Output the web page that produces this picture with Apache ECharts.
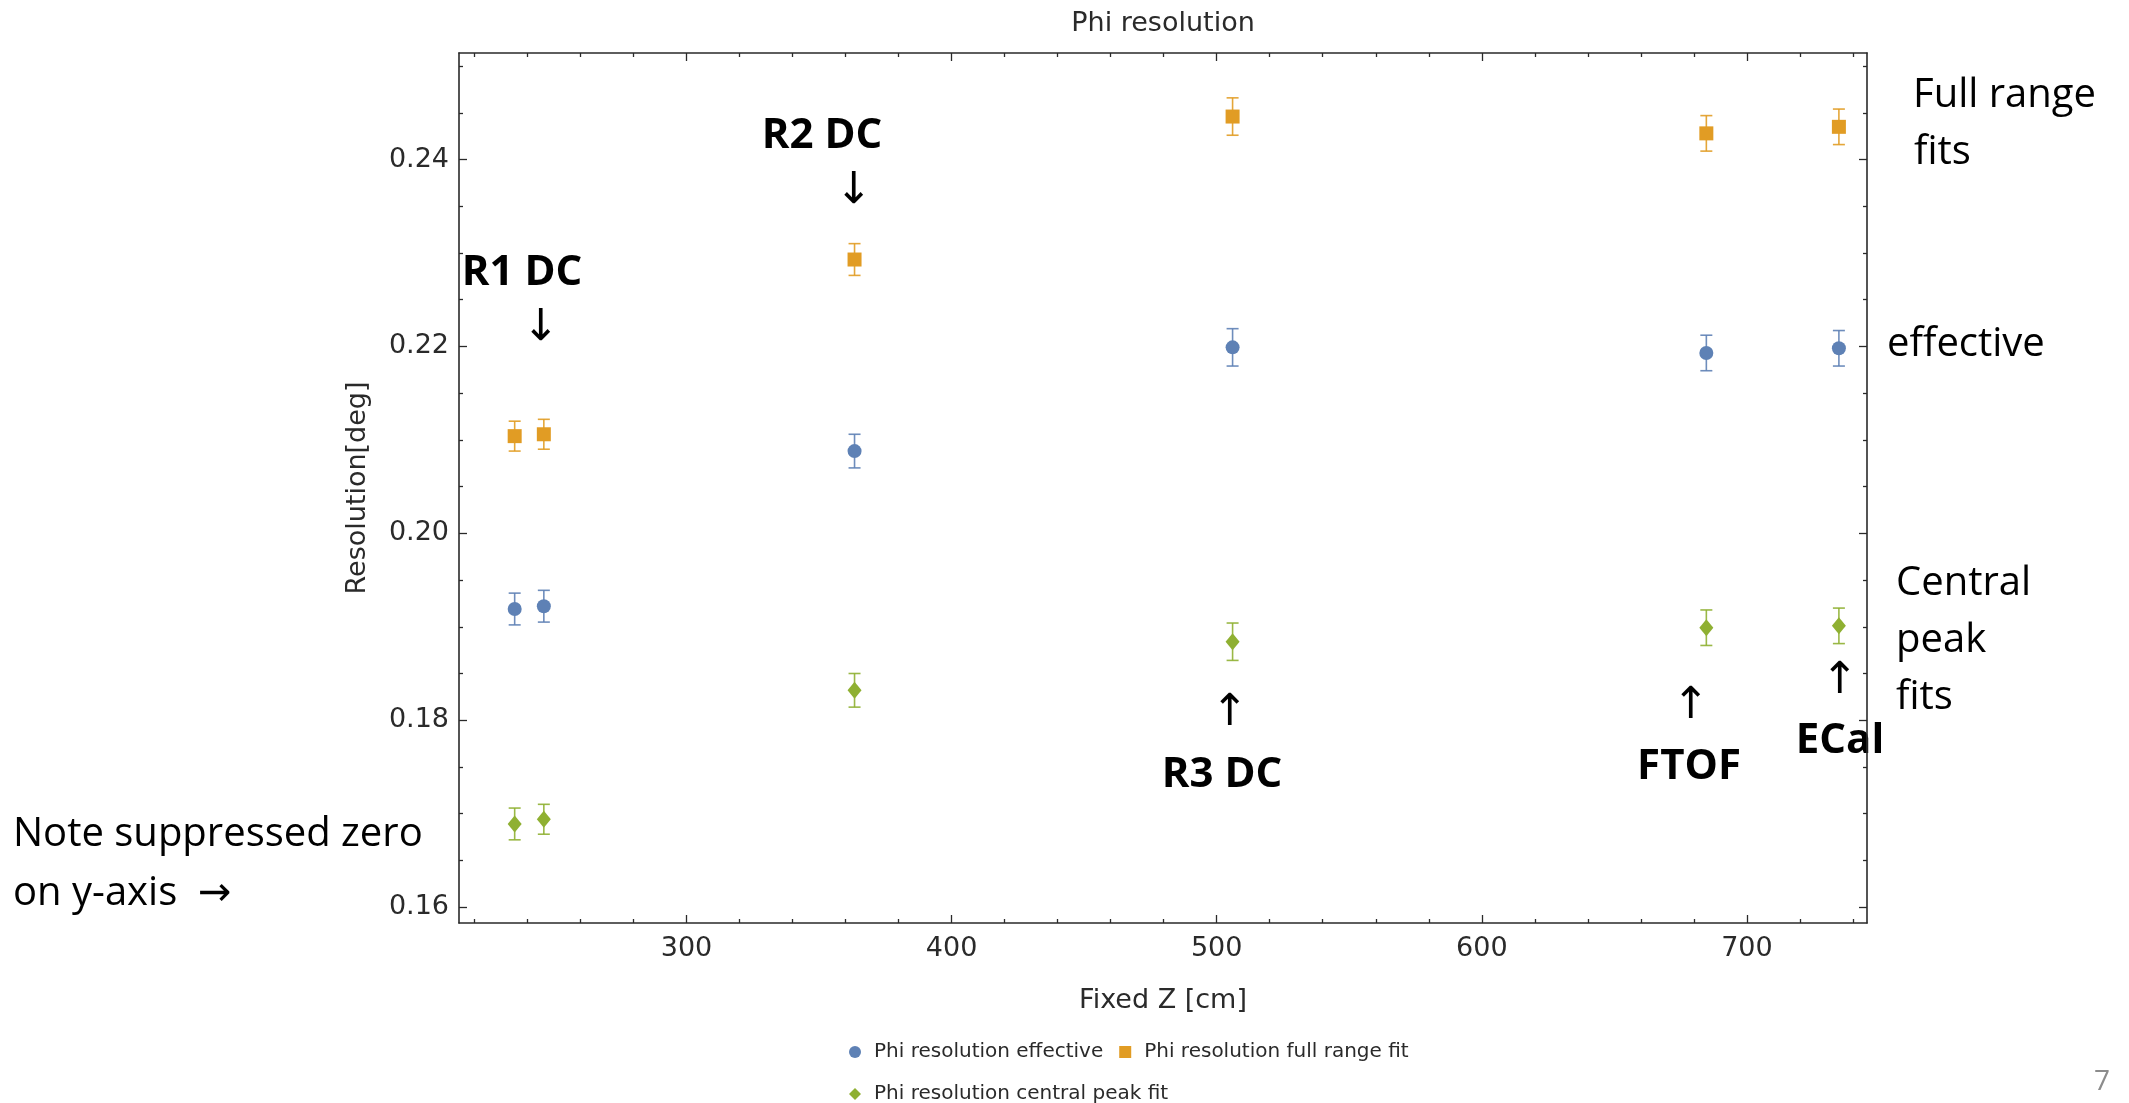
<!DOCTYPE html>
<html><head><meta charset="utf-8">
<script src="https://cdn.jsdelivr.net/npm/echarts@6/dist/echarts.min.js"></script>
<style>html,body{margin:0;padding:0;background:#fff;}#c{width:2129px;height:1103px;}</style>
</head><body><div id="c"></div>
<script>
// ---- data ----
const zPositions = [235.2, 246.2, 363.4, 506.0, 684.7, 734.7];
const effective    = [0.1919, 0.1922, 0.2088, 0.2199, 0.2193, 0.2198];
const effectiveErr = [0.0017, 0.0017, 0.0018, 0.0020, 0.0019, 0.0019];
const fullRange    = [0.2104, 0.2106, 0.2293, 0.2446, 0.2428, 0.2435];
const fullRangeErr = [0.0016, 0.0016, 0.0017, 0.0020, 0.0019, 0.0019];
const centralPeak    = [0.1689, 0.1694, 0.1832, 0.1884, 0.1899, 0.1901];
const centralPeakErr = [0.0017, 0.0016, 0.0018, 0.0020, 0.0019, 0.0019];
const seriesNames = ['Phi resolution effective', 'Phi resolution full range fit', 'Phi resolution central peak fit'];
const xMajorTicks = [300, 400, 500, 600, 700];
const xMinorTicks = [220, 240, 260, 280, 320, 340, 360, 380, 420, 440, 460, 480, 520, 540, 560, 580, 620, 640, 660, 680, 720, 740];
const yMajorTicks = [0.16, 0.18, 0.20, 0.22, 0.24];
const yMinorTicks = [0.165, 0.17, 0.175, 0.185, 0.19, 0.195, 0.205, 0.21, 0.215, 0.225, 0.23, 0.235, 0.245, 0.25];
const X_MIN = 214.2, X_MAX = 745.3, Y_MIN = 0.1583, Y_MAX = 0.2514;

const BLUE = '#5E81B5', ORANGE = '#E19C24', GREEN = '#8FB032';
const FRAME = '#2a2a2a';
const AX_FONT = 'DejaVu Sans';
const NOTE_FONT = '"Open Sans", "DejaVu Sans"';

const chart = echarts.init(document.getElementById('c'), null, {renderer: 'canvas'});

const gridRect = {left: 459, top: 53, width: 1408, height: 870};

function xAxis(grid, pos, ticks, len, opts) {
  return Object.assign({
    type: 'value', gridIndex: grid, position: pos, min: X_MIN, max: X_MAX,
    axisLine: {show: grid === 0, lineStyle: {color: FRAME, width: 1.6}},
    axisTick: {show: true, inside: true, length: len, customValues: ticks, lineStyle: {color: FRAME, width: 1.3}},
    axisLabel: {show: false},
    splitLine: {show: false}
  }, opts || {});
}
function yAxis(grid, pos, ticks, len, opts) {
  return Object.assign({
    type: 'value', gridIndex: grid, position: pos, min: Y_MIN, max: Y_MAX,
    axisLine: {show: grid === 0, lineStyle: {color: FRAME, width: 1.6}},
    axisTick: {show: true, inside: true, length: len, customValues: ticks, lineStyle: {color: FRAME, width: 1.3}},
    axisLabel: {show: false},
    splitLine: {show: false}
  }, opts || {});
}

function errSeries(ys, errs, color) {
  return {
    type: 'custom', xAxisIndex: 0, yAxisIndex: 0, z: 2, silent: true,
    data: zPositions.map((x, i) => [x, ys[i] - errs[i], ys[i] + errs[i]]),
    encode: {x: 0, y: [1, 2]},
    renderItem: function (params, api) {
      const lo = api.coord([api.value(0), api.value(1)]);
      const hi = api.coord([api.value(0), api.value(2)]);
      const hw = 6;
      const style = {stroke: color, lineWidth: 1.6, opacity: 0.9};
      return {type: 'group', children: [
        {type: 'line', shape: {x1: lo[0], y1: lo[1], x2: hi[0], y2: hi[1]}, style: style},
        {type: 'line', shape: {x1: lo[0] - hw, y1: lo[1], x2: lo[0] + hw, y2: lo[1]}, style: style},
        {type: 'line', shape: {x1: hi[0] - hw, y1: hi[1], x2: hi[0] + hw, y2: hi[1]}, style: style}
      ]};
    }
  };
}
function pts(name, ys, color, symbol, size) {
  return {
    type: 'scatter', name: name, xAxisIndex: 0, yAxisIndex: 0, z: 3,
    symbol: symbol, symbolSize: size,
    itemStyle: {color: color, opacity: 1},
    data: zPositions.map((x, i) => [x, ys[i]])
  };
}

function txt(text, x, y, size, opts) {
  const o = opts || {};
  return {
    type: 'text', x: x, y: y, silent: true,
    style: {
      text: text,
      fill: o.fill || '#000',
      font: (o.bold ? 'bold ' : '') + size + 'px ' + (o.family || NOTE_FONT),
      textAlign: o.align || 'left', align: o.align || 'left',
      textVerticalAlign: 'middle', verticalAlign: 'middle'
    }
  };
}

const legendText = {color: FRAME, fontFamily: AX_FONT, fontSize: 20, padding: [0, 0, 0, 8]};

const option = {
  backgroundColor: '#fff',
  animation: false,
  grid: [Object.assign({}, gridRect), Object.assign({}, gridRect)],
  xAxis: [
    xAxis(0, 'bottom', xMajorTicks, 8, {
      axisLabel: {show: true, customValues: xMajorTicks, margin: 12, color: FRAME, fontFamily: AX_FONT, fontSize: 27},
      name: 'Fixed Z [cm]', nameLocation: 'middle', nameGap: 64,
      nameTextStyle: {color: FRAME, fontFamily: AX_FONT, fontSize: 27}
    }),
    xAxis(0, 'top', xMajorTicks, 8),
    xAxis(1, 'bottom', xMinorTicks, 4),
    xAxis(1, 'top', xMinorTicks, 4)
  ],
  yAxis: [
    yAxis(0, 'left', yMajorTicks, 8, {
      axisLabel: {show: true, customValues: yMajorTicks, margin: 10, color: FRAME, fontFamily: AX_FONT, fontSize: 27,
        formatter: v => Number(v).toFixed(2)},
      name: 'Resolution[deg]', nameLocation: 'middle', nameGap: 88, nameRotate: 90,
      nameTextStyle: {color: FRAME, fontFamily: AX_FONT, fontSize: 27}
    }),
    yAxis(0, 'right', yMajorTicks, 8),
    yAxis(1, 'left', yMinorTicks, 4),
    yAxis(1, 'right', yMinorTicks, 4)
  ],
  legend: [
    {data: [{name: seriesNames[0], icon: 'circle'}, {name: seriesNames[1], icon: 'rect'}],
     left: 844, top: 1037, orient: 'horizontal', itemWidth: 12, itemHeight: 12, itemGap: 16,
     selectedMode: false, textStyle: legendText},
    {data: [{name: seriesNames[2], icon: 'diamond'}],
     left: 844, top: 1079, orient: 'horizontal', itemWidth: 12, itemHeight: 12, itemGap: 16,
     selectedMode: false, textStyle: legendText}
  ],
  series: [
    errSeries(effective, effectiveErr, BLUE),
    errSeries(fullRange, fullRangeErr, ORANGE),
    errSeries(centralPeak, centralPeakErr, GREEN),
    pts(seriesNames[0], effective, BLUE, 'circle', 14),
    pts(seriesNames[1], fullRange, ORANGE, 'rect', 14),
    pts(seriesNames[2], centralPeak, GREEN, 'diamond', [14, 17])
  ],
  graphic: [
    txt('Phi resolution', 1163, 24, 27, {align: 'center', family: AX_FONT, fill: FRAME}),
    txt('R1 DC', 522, 273, 42, {bold: true, align: 'center'}),
    txt('\u2193', 541, 327, 44, {align: 'center'}),
    txt('R2 DC', 822, 136, 42, {bold: true, align: 'center'}),
    txt('\u2193', 854, 190, 44, {align: 'center'}),
    txt('R3 DC', 1222, 775, 42, {bold: true, align: 'center'}),
    txt('\u2191', 1230, 712, 44, {align: 'center'}),
    txt('FTOF', 1689, 767, 42, {bold: true, align: 'center'}),
    txt('\u2191', 1691, 705, 44, {align: 'center'}),
    txt('ECal', 1840, 741, 42, {bold: true, align: 'center'}),
    txt('\u2191', 1840, 680, 44, {align: 'center'}),
    txt('Full range', 1913, 96, 40),
    txt('fits', 1914, 153, 40),
    txt('effective', 1887, 345, 40),
    txt('Central', 1896, 584, 40),
    txt('peak', 1896, 641, 40),
    txt('fits', 1896, 698, 40),
    txt('Note suppressed zero', 13, 835, 40),
    txt('on y-axis  \u2192', 13, 894, 40),
    txt('7', 2102, 1082, 28, {align: 'center', fill: '#8c8c8c'})
  ]
};
chart.setOption(option);
</script>
</body></html>
